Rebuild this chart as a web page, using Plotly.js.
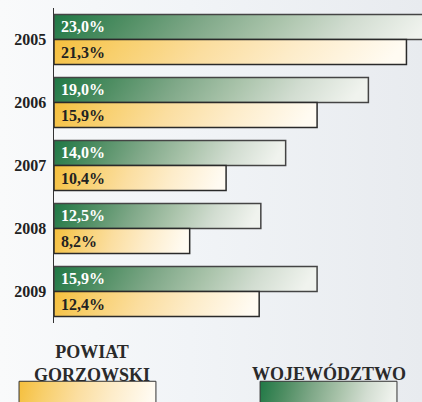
<!DOCTYPE html>
<html><head><meta charset="utf-8">
<script src="https://cdn.plot.ly/plotly-3.0.1.min.js"></script>
<style>
html,body{margin:0;padding:0;}
#chart{width:422px;height:402px;background:linear-gradient(90deg,#f9fafb 0%,#f1f4f7 45%,#e8ebef 100%);}
</style></head>
<body><div id="chart"></div>
<script>
const years = ['2005','2006','2007','2008','2009'];
const wojewodztwo = [23.0, 19.0, 14.0, 12.5, 15.9];
const powiat = [21.3, 15.9, 10.4, 8.2, 12.4];
const nameWoj = 'WOJEWÓDZTWO';
const namePow = 'POWIAT<br>GORZOWSKI';

const serif = 'Liberation Serif, Times New Roman, serif';
const traces = [
  {type:'bar', orientation:'h', y:years, x:wojewodztwo, name:nameWoj,
   marker:{color:'#2e8350', line:{color:'#444444', width:1.5}},
   texttemplate:' %{x:.1f}%', textposition:'inside', insidetextanchor:'start',
   textfont:{family:serif, size:16, color:'#ffffff', weight:'bold'},
   constraintext:'none', hoverinfo:'none'},
  {type:'bar', orientation:'h', y:years, x:powiat, name:namePow,
   marker:{color:'#f8d270', line:{color:'#2a2a2a', width:1.5}},
   texttemplate:' %{x:.1f}%', textposition:'inside', insidetextanchor:'start',
   textfont:{family:serif, size:16, color:'#222222', weight:'bold'},
   constraintext:'none', hoverinfo:'none'}
];

const layout = {
  width:422, height:402,
  margin:{l:54, r:0, t:8, b:79},
  paper_bgcolor:'rgba(0,0,0,0)', plot_bgcolor:'rgba(0,0,0,0)',
  separators:', ',
  barmode:'group', bargap:0.206, bargroupgap:0,
  showlegend:false,
  xaxis:{range:[0,22.24], showgrid:false, zeroline:false, showticklabels:false, showline:false},
  yaxis:{type:'category', range:[4.5,-0.5], showgrid:false, zeroline:false,
         showline:true, linecolor:'#333333', linewidth:1.5,
         ticks:'outside', ticklen:3, tickcolor:'rgba(0,0,0,0)',
         tickfont:{family:serif, size:16, color:'#222222', weight:'bold'}},
  annotations:[
    {xref:'paper', yref:'paper', x:0.103, y:-0.129, text:namePow, showarrow:false,
     xanchor:'center', yanchor:'middle',
     font:{family:serif, size:18, color:'#2a2a2a', weight:'bold'}},
    {xref:'paper', yref:'paper', x:0.747, y:-0.16, text:nameWoj, showarrow:false,
     xanchor:'center', yanchor:'middle',
     font:{family:serif, size:18, color:'#2a2a2a', weight:'bold'}}
  ],
  shapes:[
    {type:'rect', xref:'paper', yref:'paper', x0:-0.095, x1:0.277, y0:-0.185, y1:-0.28,
     fillcolor:'#f8d270', line:{color:'#333333', width:1}},
    {type:'rect', xref:'paper', yref:'paper', x0:0.560, x1:0.932, y0:-0.185, y1:-0.28,
     fillcolor:'#2e8350', line:{color:'#333333', width:1}}
  ]
};

const NS = 'http://www.w3.org/2000/svg';
function addGrad(defs, id, stops){
  const g = document.createElementNS(NS,'linearGradient');
  g.setAttribute('id', id);
  g.setAttribute('x1','0'); g.setAttribute('y1','0');
  g.setAttribute('x2','1'); g.setAttribute('y2','0.06');
  stops.forEach(s=>{
    const st = document.createElementNS(NS,'stop');
    st.setAttribute('offset', s[0]);
    st.setAttribute('stop-color', s[1]);
    g.appendChild(st);
  });
  defs.appendChild(g);
}

Plotly.newPlot('chart', traces, layout, {displayModeBar:false, staticPlot:true}).then(gd=>{
  const svg = gd.querySelector('.main-svg');
  let defs = svg.querySelector('defs');
  if(!defs){defs=document.createElementNS(NS,'defs'); svg.insertBefore(defs, svg.firstChild);}
  addGrad(defs,'gGreen',[['0','#1f7845'],['0.2','#4f8e63'],['0.4','#7fa888'],['0.6','#a9c3aa'],['0.8','#d2ddd1'],['1','#f0f3ee']]);
  addGrad(defs,'gYellow',[['0','#f5bf3c'],['0.2','#f8cf6c'],['0.45','#fbdea0'],['0.7','#fdecc9'],['1','#fffbf2']]);
  const tr = gd.querySelectorAll('.barlayer .trace');
  tr[0].querySelectorAll('.point path').forEach(p=>{p.style.fill='url(#gGreen)';});
  tr[1].querySelectorAll('.point path').forEach(p=>{p.style.fill='url(#gYellow)';});
  const sh = gd.querySelectorAll('.shapelayer path');
  if(sh.length>=2){sh[0].style.fill='url(#gYellow)'; sh[1].style.fill='url(#gGreen)';}
});
</script></body></html>
